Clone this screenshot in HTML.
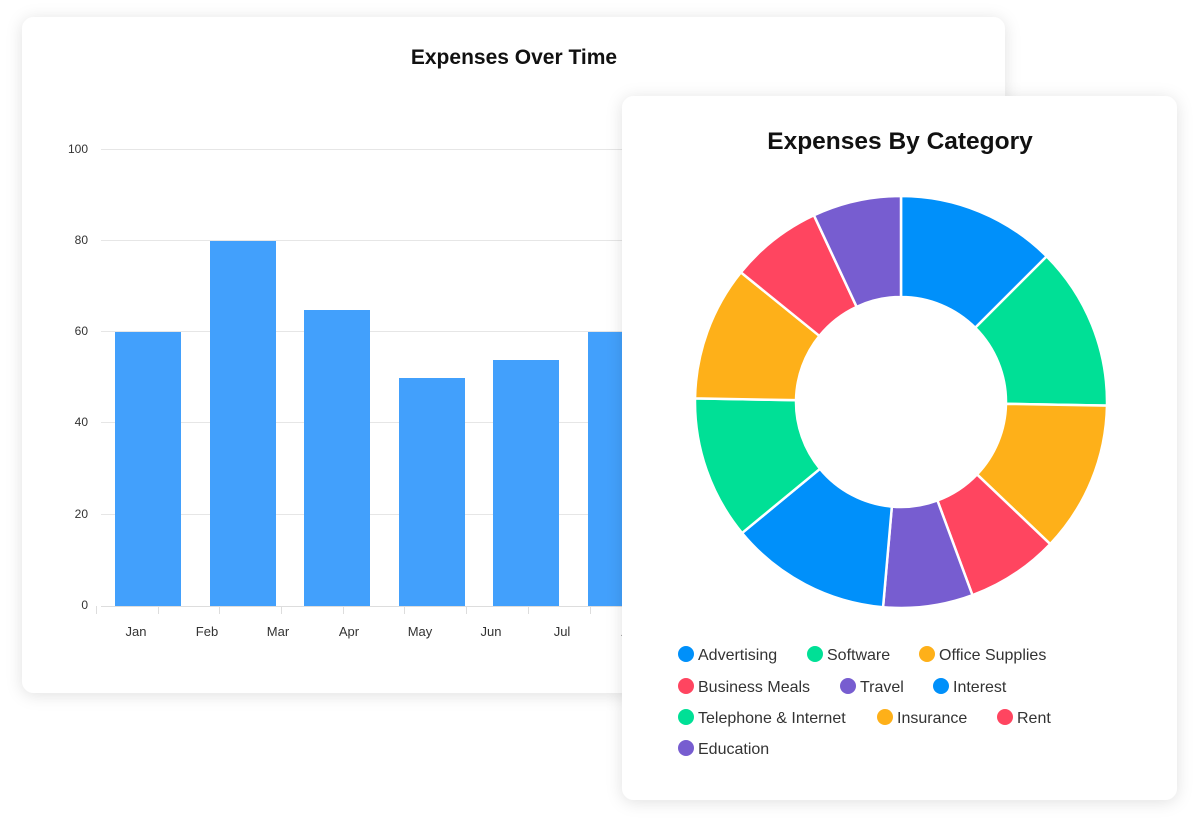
<!DOCTYPE html>
<html><head><meta charset="utf-8"><style>
html,body{margin:0;padding:0;background:#fff;width:1200px;height:828px;overflow:hidden}
svg text{font-family:"Liberation Sans",sans-serif}
</style></head><body>
<svg id="s" width="1200" height="828" viewBox="0 0 1200 828" xmlns="http://www.w3.org/2000/svg">
<defs>
<filter id="sh" x="-10%" y="-10%" width="120%" height="120%"><feDropShadow dx="0" dy="2" stdDeviation="8" flood-color="#000" flood-opacity="0.12"/></filter>
</defs>
<rect x="22" y="17" width="983" height="676" rx="12" fill="#fff" filter="url(#sh)"/>
<text x="514" y="64" text-anchor="middle" font-size="21" font-weight="bold" fill="#111">Expenses Over Time</text>
<g stroke="#e6e6e6" stroke-width="1">
<line x1="101" y1="149.5" x2="1005" y2="149.5"/>
<line x1="101" y1="240.5" x2="1005" y2="240.5"/>
<line x1="101" y1="331.5" x2="1005" y2="331.5"/>
<line x1="101" y1="422.5" x2="1005" y2="422.5"/>
<line x1="101" y1="514.5" x2="1005" y2="514.5"/>
</g>
<g font-size="12" fill="#333" text-anchor="end">
<text x="88" y="153">100</text><text x="88" y="244">80</text><text x="88" y="335">60</text>
<text x="88" y="426">40</text><text x="88" y="518">20</text><text x="88" y="609">0</text>
</g>
<g fill="#42a0fc">
<rect x="115" y="332" width="66" height="274"/>
<rect x="210" y="241" width="66" height="365"/>
<rect x="304" y="310" width="66" height="296"/>
<rect x="399" y="378" width="66" height="228"/>
<rect x="493" y="360" width="66" height="246"/>
<rect x="588" y="332" width="66" height="274"/>
</g>
<g stroke="#ddd" stroke-width="1">
<line x1="101" y1="606.5" x2="1005" y2="606.5"/>
<line x1="96.5" y1="606" x2="96.5" y2="614"/><line x1="158.5" y1="606" x2="158.5" y2="614"/>
<line x1="219.5" y1="606" x2="219.5" y2="614"/><line x1="281.5" y1="606" x2="281.5" y2="614"/>
<line x1="343.5" y1="606" x2="343.5" y2="614"/><line x1="404.5" y1="606" x2="404.5" y2="614"/>
<line x1="466.5" y1="606" x2="466.5" y2="614"/><line x1="528.5" y1="606" x2="528.5" y2="614"/>
<line x1="590.5" y1="606" x2="590.5" y2="614"/>
</g>
<g font-size="13" fill="#333" text-anchor="middle">
<text x="136" y="636">Jan</text><text x="207" y="636">Feb</text><text x="278" y="636">Mar</text>
<text x="349" y="636">Apr</text><text x="420" y="636">May</text><text x="491" y="636">Jun</text>
<text x="562" y="636">Jul</text><text x="633" y="636">Aug</text>
</g>
<rect x="622" y="96" width="555" height="704" rx="12" fill="#fff" filter="url(#sh)"/>
<text x="900" y="149" text-anchor="middle" font-size="24.5" font-weight="bold" fill="#111">Expenses By Category</text>
<g id="donut" stroke="#fff" stroke-width="2.5"></g>
<g font-size="16" fill="#333">
<circle cx="686" cy="654" r="8" fill="#0090fa"/><text x="698" y="660">Advertising</text>
<circle cx="815" cy="654" r="8" fill="#00e096"/><text x="827" y="660">Software</text>
<circle cx="927" cy="654" r="8" fill="#feb019"/><text x="939" y="660">Office Supplies</text>
<circle cx="686" cy="686" r="8" fill="#ff4560"/><text x="698" y="692">Business Meals</text>
<circle cx="848" cy="686" r="8" fill="#775dd0"/><text x="860" y="692">Travel</text>
<circle cx="941" cy="686" r="8" fill="#0090fa"/><text x="953" y="692">Interest</text>
<circle cx="686" cy="717" r="8" fill="#00e096"/><text x="698" y="723">Telephone &amp; Internet</text>
<circle cx="885" cy="717" r="8" fill="#feb019"/><text x="897" y="723">Insurance</text>
<circle cx="1005" cy="717" r="8" fill="#ff4560"/><text x="1017" y="723">Rent</text>
<circle cx="686" cy="748" r="8" fill="#775dd0"/><text x="698" y="754">Education</text>
</g>
</svg>
<script>
(function(){
var cx=901,cy=402,R=206,r=105;
var b=[0,45,91,133.6,159.7,185,230.5,271,309,335,360];
var c=["#0090fa","#00e096","#feb019","#ff4560","#775dd0","#0090fa","#00e096","#feb019","#ff4560","#775dd0"];
function p(a,rad){a=a*Math.PI/180;return [cx+rad*Math.sin(a),cy-rad*Math.cos(a)];}
var g=document.getElementById("donut"),h="";
for(var i=0;i<10;i++){
var a0=b[i],a1=b[i+1],l=(a1-a0)>180?1:0;
var A=p(a0,R),B=p(a1,R),C=p(a1,r),D=p(a0,r);
h+='<path fill="'+c[i]+'" d="M'+A[0]+' '+A[1]+' A'+R+' '+R+' 0 '+l+' 1 '+B[0]+' '+B[1]+' L'+C[0]+' '+C[1]+' A'+r+' '+r+' 0 '+l+' 0 '+D[0]+' '+D[1]+' Z"/>';
}
g.innerHTML=h;
})();
</script>
</body></html>
